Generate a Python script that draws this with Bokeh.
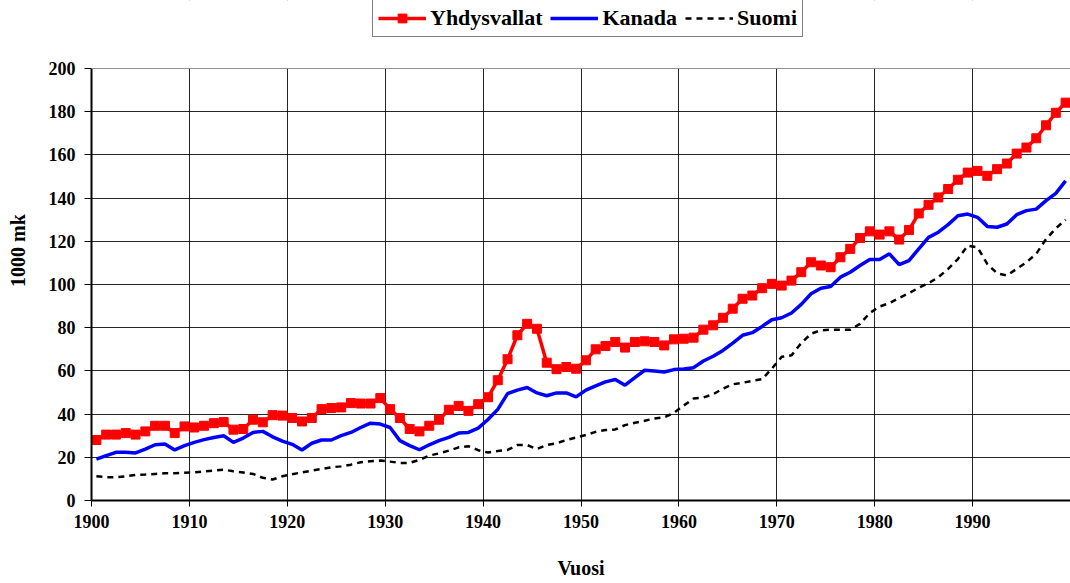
from bokeh.plotting import figure
from bokeh.models import Range1d, FixedTicker, Legend, LegendItem, BoxAnnotation
from bokeh.embed import file_html
from bokeh.resources import INLINE

years = list(range(1900, 2000))

usa = [28.0, 30.5, 30.5, 31.2, 30.5, 32.0, 34.6, 34.6, 31.2, 34.3,
       33.8, 34.6, 35.8, 36.3, 32.8, 33.1, 37.4, 36.2, 39.5, 39.3,
       38.2, 36.6, 38.2, 42.3, 42.8, 43.1, 45.1, 44.9, 44.9, 47.4,
       42.3, 38.2, 33.1, 32.0, 34.6, 37.4, 42.0, 43.8, 41.5, 44.6,
       47.8, 55.7, 65.4, 76.5, 81.8, 79.5, 63.8, 60.8, 61.8, 61.0,
       64.9, 70.0, 71.5, 73.4, 70.8, 73.4, 73.7, 73.4, 71.8, 74.6,
       74.9, 75.4, 79.1, 81.1, 84.6, 88.8, 93.4, 94.9, 98.3, 100.3,
       99.5, 101.8, 105.7, 110.3, 108.8, 108.0, 112.6, 116.5, 121.5, 124.6,
       123.1, 124.6, 120.8, 125.2, 132.9, 136.9, 140.3, 144.2, 148.5, 151.8,
       152.6, 150.3, 153.4, 156.0, 160.6, 163.4, 167.7, 173.7, 179.5, 184.2]

canada = [19.2, 20.8, 22.3, 22.3, 22.0, 23.8, 25.8, 26.2, 23.4, 25.4,
          26.9, 28.2, 29.2, 30.0, 26.9, 28.9, 31.5, 32.0, 29.5, 27.5,
          26.0, 23.4, 26.5, 28.0, 28.0, 30.0, 31.5, 33.8, 35.8, 35.4,
          33.8, 27.7, 25.4, 23.5, 25.8, 27.7, 29.2, 31.2, 31.5, 33.5,
          37.5, 42.2, 49.5, 51.1, 52.3, 49.8, 48.5, 49.8, 49.8, 48.0,
          51.1, 53.1, 54.9, 56.0, 53.4, 56.9, 60.3, 60.0, 59.5, 60.6,
          60.9, 61.5, 64.6, 66.8, 69.5, 72.9, 76.5, 77.7, 80.6, 83.7,
          84.6, 86.8, 90.8, 95.7, 98.3, 99.1, 103.4, 105.7, 108.8, 111.6,
          111.6, 114.2, 109.2, 111.1, 116.5, 121.8, 124.2, 127.7, 131.8, 132.6,
          131.1, 126.9, 126.5, 128.0, 132.3, 134.2, 134.9, 138.8, 142.2, 148.0]

finland = [11.2, 10.8, 10.8, 11.2, 11.8, 12.0, 12.3, 12.6, 12.6, 12.9,
           13.0, 13.5, 13.8, 14.3, 13.5, 13.0, 12.3, 10.5, 9.7, 11.2,
           12.2, 13.0, 13.8, 14.6, 15.4, 15.8, 16.6, 17.7, 18.2, 18.5,
           18.0, 17.4, 17.4, 18.8, 20.8, 21.8, 23.1, 24.6, 25.1, 23.3,
           22.2, 22.9, 23.4, 25.7, 25.7, 23.8, 25.7, 26.5, 28.0, 29.2,
           30.3, 31.8, 32.6, 32.9, 34.9, 36.0, 36.9, 38.0, 38.5, 40.6,
           44.0, 47.2, 47.7, 49.2, 51.8, 53.8, 54.5, 55.4, 56.2, 61.1,
           66.5, 67.2, 72.9, 77.2, 78.8, 79.1, 79.1, 79.1, 81.8, 86.8,
           89.8, 91.4, 93.8, 96.0, 98.5, 100.6, 103.4, 107.2, 111.8, 118.0,
           117.2, 109.5, 105.2, 104.2, 107.2, 110.3, 114.2, 121.0, 126.0, 130.0]

series_names = ["Yhdysvallat", "Kanada", "Suomi"]
x_ticks = list(range(1900, 2000, 10))
y_ticks = list(range(0, 201, 20))
y_max = 200

# Excel category axis: each year sits in the middle of its category slot
xs = [y + 0.5 for y in years]

FONT = "Liberation Serif"
RED, BLUE, BLACK = "#FF0000", "#0000FF", "black"

FRAME_H = 500          # frame spans from the top of the figure down to the x axis
VALUE_H = 432          # pixels used by 0..200
y_top = y_max * FRAME_H / VALUE_H   # headroom above 200 holds the legend

p = figure(width=1070, height=583, output_backend="svg", toolbar_location=None,
           x_range=Range1d(1900, 2000), y_range=Range1d(0, y_top),
           min_border_left=91, min_border_right=0, min_border_top=0,
           min_border_bottom=83)
p.outline_line_color = None
p.background_fill_color = "white"

p.xgrid.ticker = FixedTicker(ticks=x_ticks)
p.ygrid.ticker = FixedTicker(ticks=y_ticks)
for g in (p.xgrid, p.ygrid):
    g.grid_line_color = "black"
    g.grid_line_alpha = 0.85
    g.grid_line_width = 1

p.xaxis.ticker = FixedTicker(ticks=x_ticks)
p.yaxis.ticker = FixedTicker(ticks=y_ticks)
p.yaxis.bounds = (0, y_max)
p.xaxis.axis_label = "Vuosi"
p.yaxis.axis_label = "1000 mk"
for ax in (p.xaxis, p.yaxis):
    ax.axis_line_color = "black"
    ax.axis_line_width = 2
    ax.major_tick_line_color = "black"
    ax.major_tick_line_width = 1
    ax.major_tick_in = 0
    ax.minor_tick_line_color = None
    ax.major_label_text_font = FONT
    ax.major_label_text_font_style = "bold"
    ax.major_label_text_font_size = "18px"
    ax.major_label_text_color = "black"
    ax.axis_label_text_font = FONT
    ax.axis_label_text_font_style = "bold"
    ax.axis_label_text_font_size = "20px"
    ax.axis_label_text_color = "black"
p.xaxis.major_tick_out = 6
p.xaxis.major_label_standoff = 8
p.xaxis.axis_label_standoff = 26
p.yaxis.major_tick_out = 7
p.yaxis.major_label_standoff = 9
p.yaxis.axis_label_standoff = 17

r_usa_line = p.line(xs, usa, line_color=RED, line_width=3.5)
r_usa_pts = p.scatter(xs, usa, marker="square", size=9, fill_color=RED, line_color=RED)
r_can = p.line(xs, canada, line_color=BLUE, line_width=3.5)
r_fin = p.line(xs, finland, line_color=BLACK, line_width=2.5, line_dash="6 5")

# blank out the headroom above 200 (hides vertical grid lines there)
p.add_layout(BoxAnnotation(bottom=y_max, fill_color="white", fill_alpha=1,
                           line_color=None))

legend = Legend(items=[
    LegendItem(label=series_names[0], renderers=[r_usa_line, r_usa_pts]),
    LegendItem(label=series_names[1], renderers=[r_can]),
    LegendItem(label=series_names[2], renderers=[r_fin]),
], orientation="horizontal", location=(281, 463))
legend.label_text_font = FONT
legend.label_text_font_style = "bold"
legend.label_text_font_size = "22px"
legend.label_text_color = "black"
legend.label_height = 22
legend.border_line_color = "black"
legend.border_line_width = 1
legend.background_fill_color = "white"
legend.background_fill_alpha = 1
legend.glyph_width = 48
legend.glyph_height = 22
legend.label_standoff = 4
legend.spacing = 8
legend.padding = 5
legend.margin = 0
p.add_layout(legend, "center")

open("out.html", "w").write(file_html(p, INLINE))
